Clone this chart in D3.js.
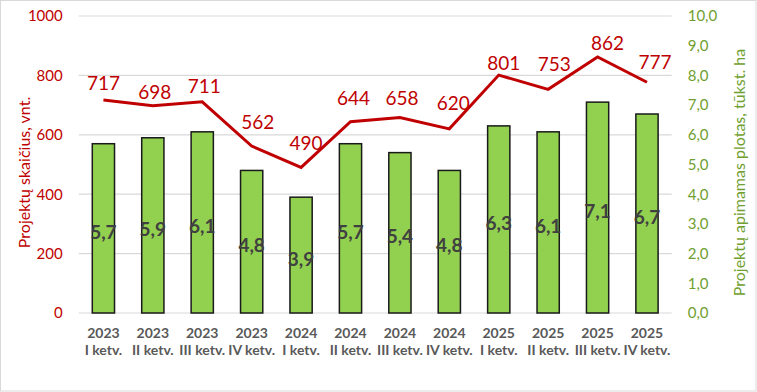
<!DOCTYPE html>
<html><head><meta charset="utf-8">
<script src="https://cdn.jsdelivr.net/npm/d3@7"></script>
<style>body{margin:0;background:#fff}svg{display:block}text{font-family:Lato,"Open Sans",sans-serif}</style>
</head><body><svg id="c" width="757" height="392"></svg>
<script>
const years = ["2023","2023","2023","2023","2024","2024","2024","2024","2025","2025","2025","2025"];
const quarters = ["I ketv.","II ketv.","III ketv.","IV ketv.","I ketv.","II ketv.","III ketv.","IV ketv.","I ketv.","II ketv.","III ketv.","IV ketv."];
const projectCount = [717,698,711,562,490,644,658,620,801,753,862,777];
const areaThousandHa = [5.7,5.9,6.1,4.8,3.9,5.7,5.4,4.8,6.3,6.1,7.1,6.7];
const leftTicks = [0,200,400,600,800,1000];
const rightTicks = [0,1,2,3,4,5,6,7,8,9,10];
// label nudges (layout only, px)
const lineLabelDx = [0,2,2,6,5,3,2,4,5,6,10,8];
const lineLabelDy = [18,14,16,25,24.5,24.5,20.5,26,12.7,26,14,20.6];

const svg = d3.select("#c");
const W=757,H=392;
const L=78.7,R=671.7,T=16,B=313;
const red="#C00000", green="#70A030";
const idx = d3.range(years.length);

svg.append("rect").attr("x",0.5).attr("y",0.5).attr("width",W-1.5).attr("height",H-1.5)
  .attr("fill","#fff").attr("stroke","#D9D9D9");

const x = d3.scaleBand().domain(idx).range([L,R]).paddingInner(0.55).paddingOuter(0.275);
const yL = d3.scaleLinear().domain([0,1000]).range([B,T]);
const yR = d3.scaleLinear().domain([0,10]).range([B,T]);

// gridlines
svg.append("g").selectAll("line").data(leftTicks).join("line")
  .attr("x1",L).attr("x2",R).attr("y1",d=>yL(d)).attr("y2",d=>yL(d))
  .attr("stroke","#D9D9D9").attr("stroke-width",1.2);

// left axis
const gl = svg.append("g").attr("transform",`translate(${L},0)`)
  .call(d3.axisLeft(yL).tickValues(leftTicks).tickSize(0).tickPadding(16).tickFormat(d3.format("d")));
gl.select(".domain").remove();
gl.selectAll("text").attr("fill",red).attr("font-size",15).attr("font-family","Lato");

// right axis
const gr = svg.append("g").attr("transform",`translate(${R},0)`)
  .call(d3.axisRight(yR).tickValues(rightTicks).tickSize(0).tickPadding(16).tickFormat(d=>d3.format(".1f")(d).replace(".",",")));
gr.select(".domain").remove();
gr.selectAll("text").attr("fill",green).attr("font-size",15).attr("font-family","Lato");

// bars
svg.append("g").selectAll("rect").data(idx).join("rect")
  .attr("x",i=>x(i)).attr("width",x.bandwidth())
  .attr("y",i=>yR(areaThousandHa[i])).attr("height",i=>B-yR(areaThousandHa[i]))
  .attr("fill","#92D050").attr("stroke","#1a1a1a").attr("stroke-width",1.5);

// bar labels
svg.append("g").selectAll("text").data(idx).join("text")
  .attr("x",i=>x(i)+x.bandwidth()/2).attr("y",i=>(yR(areaThousandHa[i])+B)/2+3)
  .attr("text-anchor","middle").attr("dominant-baseline","central")
  .attr("font-size",19).attr("font-weight","bold").attr("fill","#404040")
  .text(i=>String(areaThousandHa[i]).replace(".",","));

// line
const line = d3.line().x(i=>x(i)+x.bandwidth()/2).y(i=>yL(projectCount[i]));
svg.append("path").datum(idx).attr("d",line).attr("fill","none")
  .attr("stroke",red).attr("stroke-width",3).attr("stroke-linejoin","miter");

// line labels
svg.append("g").selectAll("text").data(idx).join("text")
  .attr("x",i=>x(i)+x.bandwidth()/2+lineLabelDx[i]).attr("y",i=>yL(projectCount[i])-lineLabelDy[i])
  .attr("text-anchor","middle").attr("dominant-baseline","central")
  .attr("font-size",19).attr("fill",red)
  .text(i=>projectCount[i]);

// x labels
const xl = svg.append("g").selectAll("text").data(idx).join("text")
  .attr("text-anchor","middle").attr("font-size",14).attr("font-weight","bold").attr("fill","#595959");
xl.append("tspan").attr("x",i=>x(i)+x.bandwidth()/2).attr("y",338).text(i=>years[i]);
xl.append("tspan").attr("x",i=>x(i)+x.bandwidth()/2).attr("y",355).text(i=>quarters[i]);

// axis titles
svg.append("text").attr("transform",`translate(23,${(T+B)/2+8}) rotate(-90)`)
  .attr("text-anchor","middle").attr("dominant-baseline","central")
  .attr("font-size",16).attr("fill",red).text("Projektų skaičius, vnt.");
svg.append("text").attr("transform",`translate(738,${(T+B)/2+8}) rotate(-90)`)
  .attr("text-anchor","middle").attr("dominant-baseline","central")
  .attr("font-size",16).attr("fill",green).text("Projektų apimamas plotas, tūkst. ha");
</script></body></html>
